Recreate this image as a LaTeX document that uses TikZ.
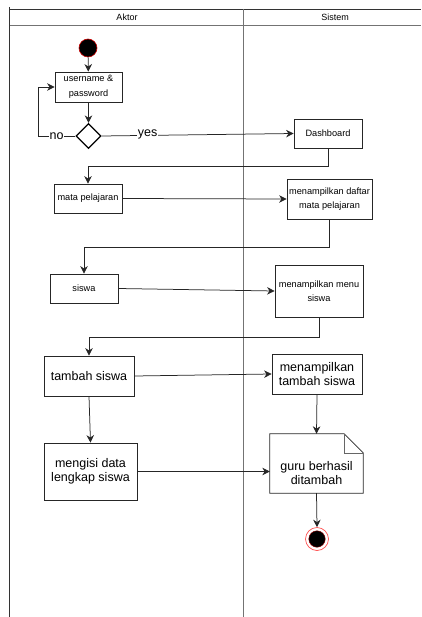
\documentclass[tikz,border=0pt]{standalone}
\usepackage{fontspec}
\setmainfont{Liberation Sans}
\usetikzlibrary{arrows.meta,shapes.geometric,calc}

\tikzset{
  act/.style={draw=black!85, line width=0.8pt, fill=white, align=center,
    inner sep=1pt, font=\fontsize{9.2}{14.5}\selectfont},
  actbig/.style={act, font=\fontsize{12.5}{14.5}\selectfont},
  flow/.style={draw=black!85, line width=0.75pt,
    -{Stealth[length=7.5pt,width=7.5pt,inset=2.4pt]}},
  lane/.style={draw=black!80, line width=0.9pt},
  lanegray/.style={draw=black!55, line width=0.9pt},
  guard/.style={fill=white, inner sep=0.5pt, font=\fontsize{12.5}{14}\selectfont},
  head/.style={font=\fontsize{9}{10}\selectfont}
}

\begin{document}
\begin{tikzpicture}[x=1pt, y=-1pt]
\useasboundingbox (0,0) rectangle (421,617);

% swimlane frame
\draw[lane] (9.5,7) -- (9.5,617);
\draw[lane] (9.5,9) -- (421,9);
\draw[lanegray] (9.5,25) -- (421,25);
\draw[lanegray] (243,9) -- (243,617);
\node[head] (hAktor) at (127,17) {Aktor};
\node[head] (hSistem) at (335,17) {Sistem};

% start node
\node[circle, fill=black, draw=red!80!black, line width=0.6pt,
  minimum size=18pt, inner sep=0] (start) at (88,48) {};

% activities
\node[act, minimum width=67pt, minimum height=30pt] (user) at (88.5,87)
  {username \&\\password};
\node[diamond, draw=black, line width=1.2pt, fill=white, aspect=1,
  minimum width=25pt, minimum height=25pt, inner sep=0] (dec) at (88.5,136) {};
\node[act, minimum width=68pt, minimum height=29pt] (dash) at (328,133.5) {Dashboard};
\node[act, minimum width=68pt, minimum height=29pt] (mapel) at (88,198.5) {mata pelajaran};
\node[act, minimum width=85pt, minimum height=40pt] (daftar) at (329.5,199)
  {menampilkan daftar\\mata pelajaran};
\node[act, minimum width=68pt, minimum height=29pt] (siswa) at (84,288.5) {siswa};
\node[act, minimum width=88pt, minimum height=52pt] (menu) at (319,291)
  {menampilkan menu\\siswa};
\node[actbig, minimum width=90pt, minimum height=40pt] (tambah) at (89,376) {tambah siswa};
\node[actbig, minimum width=90pt, minimum height=40pt] (tampil) at (317,374)
  {menampilkan\\tambah siswa};
\node[actbig, minimum width=93pt, minimum height=57pt] (isi) at (90.5,471.5)
  {mengisi data\\lengkap siswa};

% note with folded corner; its text sits below the fold
\node[draw=none, fill=none, minimum width=93pt, minimum height=59pt, inner sep=0]
  (guru) at (316.5,463.5) {};
\draw[draw=black!85, line width=0.8pt]
  (guru.north west) -- ([xshift=-19pt]guru.north east)
  -- ([yshift=-19pt]guru.north east) -- (guru.south east)
  -- (guru.south west) -- cycle;
\draw[draw=black!60, line width=0.6pt]
  ([xshift=-19pt]guru.north east) -- ([xshift=-19pt,yshift=-19pt]guru.north east)
  -- ([yshift=-19pt]guru.north east);
\node[actbig, draw=none, fill=none] (gurutext) at (316.5,473)
  {guru berhasil\\ditambah};

% end node
\node[circle, draw=red!70, line width=0.7pt, fill=white,
  minimum size=23pt, inner sep=0] (end) at (317,539) {};
\node[circle, fill=black, draw=red!60!black, line width=0.4pt,
  minimum size=16.5pt, inner sep=0] (endcore) at (end.center) {};

% bend points of the return connectors
\coordinate (nobend) at (38,136);
\coordinate (j1) at (0,166);
\coordinate (j2) at (0,247);
\coordinate (j3) at (0,337);

% connectors
\draw[flow] (start) -- (user);
\draw[flow] (user) -- (dec);
\draw[flow] (dec.west) -- node[guard, pos=0.5]{no} (nobend) |- (user.west);
\draw[flow] (dec.east) -- node[guard, pos=0.24, yshift=0.8pt]{yes} (dash.west);
\draw[flow] (dash.south) -- (dash.south |- j1) -| (mapel.north);
\draw[flow] (mapel.east) -- (daftar.west);
\draw[flow] (daftar.south) -- (daftar.south |- j2) -| (siswa.north);
\draw[flow] (siswa.east) -- (menu.west);
\draw[flow] (menu.south) -- (menu.south |- j3) -| (tambah.north);
\draw[flow] (tambah.east) -- (tampil.west);
\draw[flow] (tambah.south) -- (isi.north);
\draw[flow] (isi.east) -- (isi.east -| guru.west);
\draw[flow] (tampil.south) -- (guru.north);
\draw[flow] (guru.south) -- (end.north);

\end{tikzpicture}
\end{document}
